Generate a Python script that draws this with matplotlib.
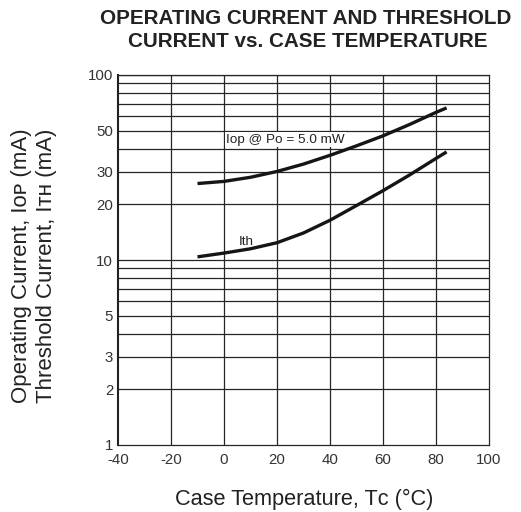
import matplotlib
matplotlib.use("Agg")
import matplotlib.pyplot as plt
from matplotlib.ticker import FixedLocator, FixedFormatter, NullFormatter

plt.rcParams['font.family'] = ['Liberation Sans', 'DejaVu Sans']

# Data
temps = [-10, 0, 10, 20, 30, 40, 50, 60, 70, 80, 84]
iop = [25.9, 26.6, 28.0, 30.1, 33.0, 36.8, 41.4, 46.9, 54.0, 62.8, 66.4]
ith = [10.4, 10.9, 11.5, 12.4, 14.0, 16.4, 19.7, 23.7, 28.8, 35.4, 38.4]

x_ticks = [-40, -20, 0, 20, 40, 60, 80, 100]
y_major = [1, 2, 3, 5, 10, 20, 30, 50, 100]
y_grid = [2, 3, 4, 5, 6, 7, 8, 9, 10, 20, 30, 40, 50, 60, 70, 80, 90, 100]

title1 = "OPERATING CURRENT AND THRESHOLD"
title2 = "CURRENT vs. CASE TEMPERATURE"
xlabel = "Case Temperature, T\u1d04 (\u00b0C)"
ylabel1 = "Operating Current, I\u1d0f\u1d18 (mA)"
ylabel2 = "Threshold Current, I\u1d1b\u029c (mA)"
iop_label = "Iop @ P\u1d0f = 5.0 mW"
ith_label = "Ith"

fig = plt.figure(figsize=(5.21, 5.12), dpi=100)
ax = fig.add_axes([118/521, 67/512, 371/521, 370/512])

ax.set_yscale('log')
ax.set_xlim(-40, 100)
ax.set_ylim(1, 100)

# grid
for yv in y_grid:
    ax.axhline(yv, color='#262626', lw=0.9, zorder=1)
for xv in x_ticks[1:-1]:
    ax.axvline(xv, color='#262626', lw=0.9, zorder=1)

ax.plot(temps, iop, color='#151515', lw=2.4, solid_capstyle='butt', zorder=3)
ax.plot(temps, ith, color='#151515', lw=2.4, solid_capstyle='butt', zorder=3)

ax.text(0.7, 43.1, iop_label, fontsize=9.7, color='#222222', ha='left', va='baseline',
        zorder=2, bbox=dict(facecolor='white', edgecolor='none', pad=1))
ax.text(5.4, 12.1, ith_label, fontsize=9.7, color='#222222', ha='left', va='baseline',
        zorder=2, bbox=dict(facecolor='white', edgecolor='none', pad=1))

ax.xaxis.set_major_locator(FixedLocator(x_ticks))
ax.set_xticklabels([str(v) for v in x_ticks])
ax.yaxis.set_major_locator(FixedLocator(y_major))
ax.yaxis.set_major_formatter(FixedFormatter([str(v) for v in y_major]))
ax.yaxis.set_minor_formatter(NullFormatter())
ax.tick_params(which='both', length=0, labelsize=10.8, labelcolor='#333333')
ax.tick_params(axis='x', pad=6)
ax.tick_params(axis='y', pad=3.5)

for s in ['top', 'right', 'bottom']:
    ax.spines[s].set_linewidth(0.9)
    ax.spines[s].set_color('#262626')
ax.spines['left'].set_linewidth(1.5)
ax.spines['left'].set_color('#222222')

fig.text(306/521, 1 - 24/512, title1, ha='center', va='baseline', fontsize=14.9,
         fontweight='bold', color='#222222')
fig.text(308/521, 1 - 46.7/512, title2, ha='center', va='baseline', fontsize=14.9,
         fontweight='bold', color='#222222')
fig.text(304/521, 1 - 505/512, xlabel, ha='center', va='baseline', fontsize=15.7,
         color='#222222')
fig.text(22/521, 1 - 266/512, ylabel1, ha='center', va='center', rotation=90,
         fontsize=16, color='#222222')
fig.text(47/521, 1 - 266/512, ylabel2, ha='center', va='center', rotation=90,
         fontsize=16, color='#222222')

fig.savefig('out.png', dpi=100)
